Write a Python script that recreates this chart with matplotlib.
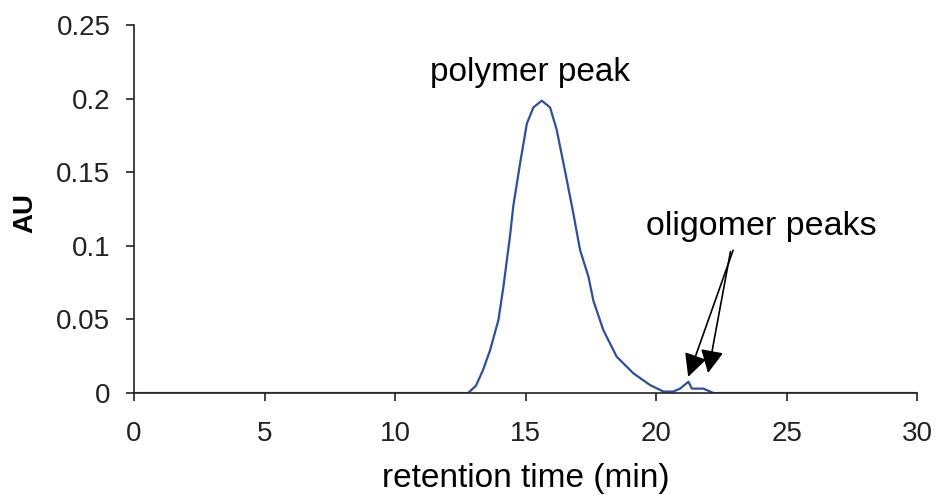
import matplotlib
matplotlib.use("Agg")
import matplotlib.pyplot as plt

plt.rcParams['font.family'] = ['Liberation Sans', 'DejaVu Sans']

time_min = [0, 5, 10, 12.5, 12.8, 13.1, 13.37, 13.64, 13.96, 14.15, 14.4, 14.53, 14.79, 15.05, 15.3,
            15.62, 15.94, 16.19, 16.51, 16.83, 17.09, 17.41, 17.6, 17.98, 18.49, 19.13,
            19.77, 20.28, 20.66, 20.92, 21.24, 21.37, 21.81, 21.94, 22.2, 25, 30]
au = [0, 0, 0, 0, 0, 0.005, 0.0156, 0.029, 0.0496, 0.072, 0.106, 0.127, 0.156, 0.183, 0.194,
      0.1986, 0.194, 0.179, 0.151, 0.122, 0.097, 0.079, 0.0626, 0.0427, 0.0247, 0.0134,
      0.0054, 0.001, 0.001, 0.003, 0.0077, 0.003, 0.003, 0.002, 0, 0, 0]
x_ticks = [0, 5, 10, 15, 20, 25, 30]
y_ticks = [0, 0.05, 0.1, 0.15, 0.2, 0.25]
y_tick_labels = ['0', '0.05', '0.1', '0.15', '0.2', '0.25']

fig = plt.figure(figsize=(9.39, 4.95), dpi=100)
ax = fig.add_axes([0.1427, 0.206, 0.834, 0.7435])
ax.plot(time_min, au, color='#2a4fa8', lw=1.6)
ax.set_xlim(0, 30)
ax.set_ylim(0, 0.25)
ax.set_xticks(x_ticks)
ax.set_yticks(y_ticks)
ax.set_yticklabels(y_tick_labels)
for s in ['top', 'right']:
    ax.spines[s].set_visible(False)
for s in ['left', 'bottom']:
    ax.spines[s].set_linewidth(1.2)
    ax.spines[s].set_color('#222222')
ax.tick_params(axis='both', labelsize=20, direction='out', length=6, width=1.2, colors='#222222')
ax.tick_params(axis='y', pad=11)
ax.tick_params(axis='x', pad=14)
ax.set_xlabel('retention time (min)', fontsize=24)
ax.xaxis.set_label_coords(0.5, -0.19)
ax.set_ylabel('AU', fontsize=20, fontweight='bold')
ax.yaxis.set_label_coords(-0.122, 0.49)

ax.text(15.17, 0.218, 'polymer peak', fontsize=24, ha='center', va='center')
ax.text(24.04, 0.1128, 'oligomer peaks', fontsize=24.5, ha='center', va='center')
arrow_kw = dict(arrowstyle='-|>,head_length=1.4,head_width=0.7', color='black', lw=1.2,
                shrinkA=0, shrinkB=0)
ax.annotate('', xy=(21.23, 0.011), xytext=(22.95, 0.097), arrowprops=arrow_kw)
ax.annotate('', xy=(21.99, 0.0136), xytext=(22.85, 0.096), arrowprops=arrow_kw)

fig.savefig('out.png', dpi=100)
